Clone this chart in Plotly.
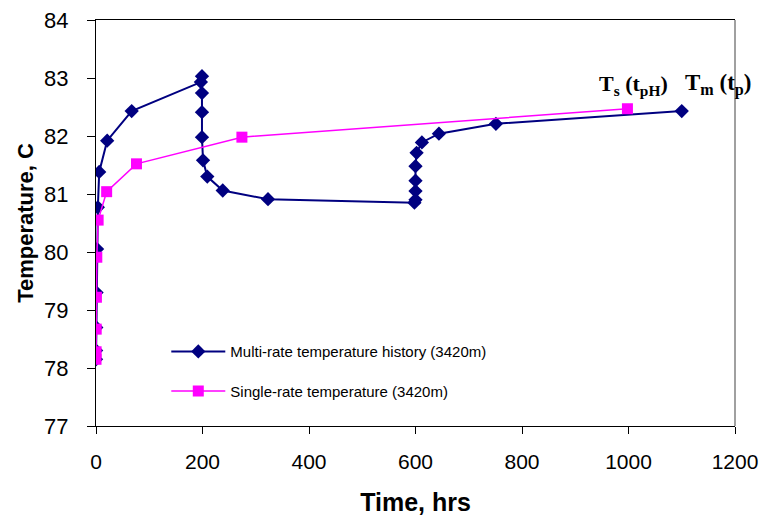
import plotly.graph_objects as go

# Multi-rate temperature history at 3420 m
multi_time = [0.05, 0.2, 0.5, 1, 2, 3.5, 6, 21, 67,
              197, 199, 199, 199, 199, 201, 209, 238, 323,
              598, 600, 600, 600, 600, 602, 612, 644, 751, 1100]
multi_temp = [78.15, 78.30, 78.70, 79.30, 80.05, 80.77, 81.38, 81.92, 82.43,
              82.93, 83.03, 82.74, 82.41, 81.98, 81.58, 81.30, 81.06, 80.91,
              80.85, 80.90, 81.05, 81.23, 81.48, 81.71, 81.89, 82.04, 82.21, 82.43]

# Single-rate temperature at 3420 m
single_time = [0.05, 0.2, 0.4, 0.8, 1.5, 4, 20, 76, 274, 998]
single_temp = [78.15, 78.28, 78.67, 79.22, 79.91, 80.55, 81.04, 81.52, 81.98, 82.47]

x_ticks = [0, 200, 400, 600, 800, 1000, 1200]
y_ticks = [77, 78, 79, 80, 81, 82, 83, 84]

NAVY = "#000080"
MAGENTA = "#FF00FF"
SANS = "Liberation Sans, Arial, sans-serif"
SERIF = "Liberation Serif, Times New Roman, serif"

fig = go.Figure()
fig.add_trace(go.Scatter(
    x=multi_time, y=multi_temp, mode="lines+markers",
    name="Multi-rate temperature history (3420m)",
    legendgroup="multi",
    line=dict(color=NAVY, width=2),
    marker=dict(symbol="diamond", size=11, color=NAVY),
))
fig.add_trace(go.Scatter(
    x=single_time, y=single_temp, mode="lines+markers",
    name="Single-rate temperature (3420m)",
    legendgroup="single",
    line=dict(color=MAGENTA, width=1.5),
    marker=dict(symbol="square", size=11, color=MAGENTA),
))

fig.add_annotation(x=single_time[-1], y=single_temp[-1], xref="x", yref="y",
                   text="<b>T<sub>s</sub> (t<sub>pH</sub>)</b>", showarrow=False,
                   xanchor="center", yanchor="bottom", xshift=6, yshift=8,
                   font=dict(family=SERIF, size=22, color="black"))
fig.add_annotation(x=multi_time[-1], y=multi_temp[-1], xref="x", yref="y",
                   text="<b>T<sub>m</sub> (t<sub>p</sub>)</b>", showarrow=False,
                   xanchor="left", yanchor="bottom", xshift=1, yshift=10,
                   font=dict(family=SERIF, size=23, color="black"))

# right frame edge drawn in grey
fig.add_shape(type="line", xref="paper", yref="paper", x0=1, x1=1, y0=0, y1=1,
              line=dict(color="#808080", width=1.5))

fig.update_layout(
    width=763, height=521,
    margin=dict(l=96, r=28, t=20, b=95, autoexpand=False),
    paper_bgcolor="white", plot_bgcolor="white",
    font=dict(family=SANS, color="black"),
    showlegend=True,
    legend=dict(x=0.11, y=0.135, xanchor="left", yanchor="middle",
                bgcolor="rgba(0,0,0,0)", font=dict(size=15, family=SANS),
                itemwidth=54, tracegroupgap=17),
    xaxis=dict(range=[0, 1200], tickvals=x_ticks, showgrid=False, zeroline=False,
               automargin=False,
               showline=True, linecolor="black", linewidth=1, mirror=True,
               ticks="outside", ticklen=7, tickcolor="black",
               tickfont=dict(size=21), ticklabelstandoff=10,
               title=dict(text="<b>Time, hrs</b>", font=dict(size=25), standoff=21)),
    yaxis=dict(range=[77, 84], tickvals=y_ticks, showgrid=False, zeroline=False,
               automargin=False,
               showline=True, linecolor="black", linewidth=1,
               ticks="outside", ticklen=8, tickcolor="black",
               tickfont=dict(size=22), ticklabelstandoff=14,
               title=dict(text="<b>Temperature, C</b>", font=dict(size=22), standoff=4)),
)

fig.write_html("out.html")
